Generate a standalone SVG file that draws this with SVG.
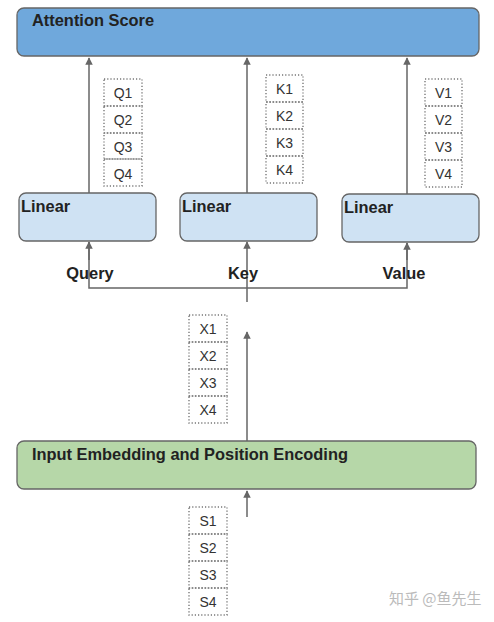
<svg xmlns="http://www.w3.org/2000/svg" width="494" height="622" viewBox="0 0 494 622">
<defs>
<marker id="arr" viewBox="0 0 10 10" refX="9" refY="5" markerWidth="5" markerHeight="5" orient="auto" markerUnits="strokeWidth">
<path d="M0,0 L10,5 L0,10 z" fill="#666"/>
</marker>
<style>
.box{stroke:#666;stroke-width:1.3}
.title{font-family:"Liberation Sans",Arial,sans-serif;font-weight:bold;font-size:16.4px;fill:#222}
.cell{fill:none;stroke:#777;stroke-width:1.4;stroke-dasharray:1.2 2}
.ct{font-family:"Liberation Sans",Arial,sans-serif;font-size:14px;fill:#333;text-anchor:middle}
.lbl{font-family:"Liberation Sans",Arial,sans-serif;font-weight:bold;font-size:16.4px;fill:#222;text-anchor:middle}
.ln{fill:none;stroke:#666;stroke-width:1.5}
</style>
</defs>
<rect width="494" height="622" fill="#fff"/>
<g id="attention">
<rect class="box" x="17" y="8" width="462" height="48" rx="7" fill="#6fa8dc"/>
<text class="title" x="32" y="26">Attention Score</text>
</g>
<g id="linear-q">
<rect class="box" x="19" y="193" width="137" height="48" rx="7" fill="#cfe2f3"/>
<text class="title" x="21" y="212">Linear</text>
</g>
<g id="linear-k">
<rect class="box" x="180" y="193" width="137" height="48" rx="7" fill="#cfe2f3"/>
<text class="title" x="182" y="212">Linear</text>
</g>
<g id="linear-v">
<rect class="box" x="342" y="194" width="137" height="48" rx="7" fill="#cfe2f3"/>
<text class="title" x="344" y="213">Linear</text>
</g>
<g id="embed">
<rect class="box" x="17" y="441" width="459" height="48" rx="7" fill="#b6d7a8"/>
<text class="title" x="32" y="460">Input Embedding and Position Encoding</text>
</g>
<g id="q-vec">
<rect class="cell" x="104" y="79" width="38" height="27"/>
<rect class="cell" x="104" y="106" width="38" height="27"/>
<rect class="cell" x="104" y="133" width="38" height="26"/>
<rect class="cell" x="104" y="159" width="38" height="27"/>
<text class="ct" x="123" y="98">Q1</text>
<text class="ct" x="123" y="125">Q2</text>
<text class="ct" x="123" y="152">Q3</text>
<text class="ct" x="123" y="179">Q4</text>
</g>
<g id="k-vec">
<rect class="cell" x="266" y="75" width="37" height="27"/>
<rect class="cell" x="266" y="102" width="37" height="27"/>
<rect class="cell" x="266" y="129" width="37" height="27"/>
<rect class="cell" x="266" y="156" width="37" height="27"/>
<text class="ct" x="284.5" y="94">K1</text>
<text class="ct" x="284.5" y="121">K2</text>
<text class="ct" x="284.5" y="148">K3</text>
<text class="ct" x="284.5" y="175">K4</text>
</g>
<g id="v-vec">
<rect class="cell" x="425" y="79" width="37" height="27"/>
<rect class="cell" x="425" y="106" width="37" height="27"/>
<rect class="cell" x="425" y="133" width="37" height="27"/>
<rect class="cell" x="425" y="160" width="37" height="27"/>
<text class="ct" x="443.5" y="98">V1</text>
<text class="ct" x="443.5" y="125">V2</text>
<text class="ct" x="443.5" y="152">V3</text>
<text class="ct" x="443.5" y="179">V4</text>
</g>
<g id="x-vec">
<rect class="cell" x="189" y="315" width="38" height="27"/>
<rect class="cell" x="189" y="342" width="38" height="27"/>
<rect class="cell" x="189" y="369" width="38" height="27"/>
<rect class="cell" x="189" y="396" width="38" height="27"/>
<text class="ct" x="208" y="334">X1</text>
<text class="ct" x="208" y="361">X2</text>
<text class="ct" x="208" y="388">X3</text>
<text class="ct" x="208" y="415">X4</text>
</g>
<g id="s-vec">
<rect class="cell" x="189" y="507" width="38" height="27"/>
<rect class="cell" x="189" y="534" width="38" height="27"/>
<rect class="cell" x="189" y="561" width="38" height="27"/>
<rect class="cell" x="189" y="588" width="38" height="27"/>
<text class="ct" x="208" y="526">S1</text>
<text class="ct" x="208" y="553">S2</text>
<text class="ct" x="208" y="580">S3</text>
<text class="ct" x="208" y="607">S4</text>
</g>
<g id="connectors">
<line class="ln" x1="89" y1="193" x2="89" y2="58" marker-end="url(#arr)"/>
<line class="ln" x1="247" y1="193" x2="247" y2="58" marker-end="url(#arr)"/>
<line class="ln" x1="407" y1="194" x2="407" y2="58" marker-end="url(#arr)"/>
<polyline class="ln" points="89,242 89,288 407,288 407,243"/>
<line class="ln" x1="89" y1="260" x2="89" y2="242" marker-end="url(#arr)"/>
<line class="ln" x1="407" y1="260" x2="407" y2="243" marker-end="url(#arr)"/>
<line class="ln" x1="247" y1="302" x2="247" y2="242" marker-end="url(#arr)"/>
<line class="ln" x1="247" y1="441" x2="247" y2="332" marker-end="url(#arr)"/>
<line class="ln" x1="247" y1="517" x2="247" y2="491" marker-end="url(#arr)"/>
</g>
<g id="labels">
<text class="lbl" x="90" y="279">Query</text>
<text class="lbl" x="243" y="279">Key</text>
<text class="lbl" x="404" y="279">Value</text>
</g>
<text x="389" y="604" font-family="'Noto Sans CJK SC',sans-serif" font-size="15" fill="#bbb">知乎 @鱼先生</text>
</svg>
